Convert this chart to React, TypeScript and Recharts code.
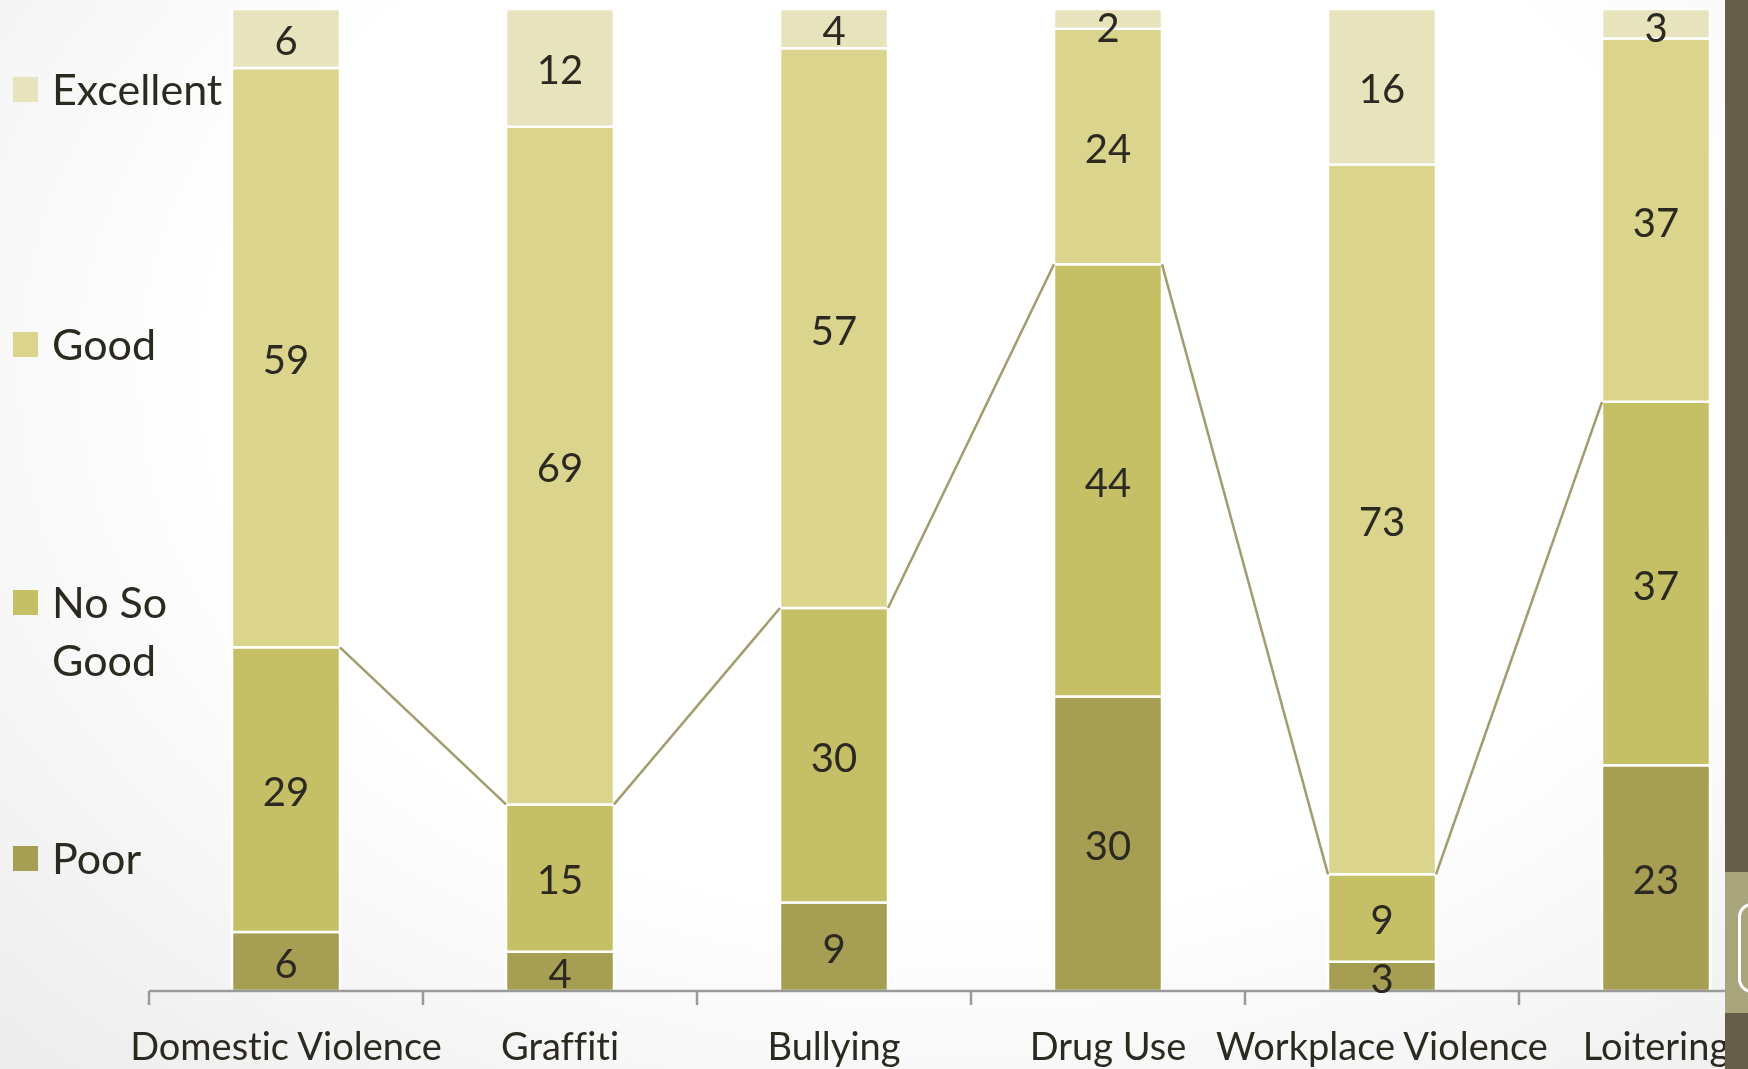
import { ComposedChart, Bar, XAxis, YAxis, Scatter, LabelList } from "recharts";

const categories = ["Domestic Violence", "Graffiti", "Bullying", "Drug Use", "Workplace Violence", "Loitering"];
const poor = [6, 4, 9, 30, 3, 23];
const notSoGood = [29, 15, 30, 44, 9, 37];
const good = [59, 69, 57, 24, 73, 37];
const excellent = [6, 12, 4, 2, 16, 3];

const seriesKeys = ["poor", "notSoGood", "good", "excellent"] as const;
const seriesNames = { poor: "Poor", notSoGood: "No So Good", good: "Good", excellent: "Excellent" };
const colors = { poor: "#a69f53", notSoGood: "#c5bf66", good: "#dad48d", excellent: "#e7e3bd" };

const FONT = "Lato, 'Open Sans', sans-serif";
const TEXT = "#2b2920";
const BAR_SIZE = 108;
const CHART_W = 1793;
const PLOT_LEFT = 149;

const data = categories.map((name, i) => ({
  name,
  poor: poor[i],
  notSoGood: notSoGood[i],
  good: good[i],
  excellent: excellent[i],
}));

// series lines join the top of "No So Good" from one bar's right edge to the next bar's left edge
const halfBar = BAR_SIZE / 2 / ((CHART_W - PLOT_LEFT) / categories.length);
const share = (i: number) =>
  (poor[i] + notSoGood[i]) / (poor[i] + notSoGood[i] + good[i] + excellent[i]);
const seriesLines = categories.slice(0, -1).map((_, i) => [
  { x: i + 0.5 + halfBar, y: share(i) },
  { x: i + 1.5 - halfBar, y: share(i + 1) },
]);

const legendTops = [60, 315, 573, 829];

function LegendBox() {
  const items = [...seriesKeys].reverse();
  return (
    <div style={{ position: "absolute", left: 0, top: 0, width: 220 }}>
      {items.map((k, i) => (
        <div
          key={k}
          style={{
            position: "absolute",
            top: legendTops[i],
            left: 13,
            display: "flex",
            alignItems: "flex-start",
            fontFamily: FONT,
            fontSize: 43,
            lineHeight: "58px",
            color: TEXT,
          }}
        >
          <div style={{ width: 25, height: 25, marginTop: 17, background: colors[k], flex: "none" }} />
          <div style={{ marginLeft: 14, width: 150 }}>{seriesNames[k]}</div>
        </div>
      ))}
    </div>
  );
}

// centred value label, kept inside the top of the plot for thin segments
function SegmentLabel(props: any) {
  const box = props.viewBox && props.viewBox.width != null ? props.viewBox : props;
  const { x, y, width, height } = box;
  const cy = Math.max(y + height / 2, 26) + 2;
  return (
    <text
      x={x + width / 2}
      y={cy}
      dy="0.36em"
      textAnchor="middle"
      style={{ fontFamily: FONT, fontSize: 40, fill: TEXT }}
    >
      {props.value}
    </text>
  );
}

export default function App() {
  return (
    <div
      style={{
        position: "fixed",
        left: 0,
        top: 0,
        width: 1748,
        height: 1069,
        overflow: "hidden",
        background: "radial-gradient(ellipse at 55% 35%, #ffffff 55%, #ececec 100%)",
      }}
    >
      <ComposedChart
        width={CHART_W}
        height={1069}
        data={data}
        stackOffset="expand"
        margin={{ top: 9, right: 0, left: PLOT_LEFT, bottom: 0 }}
      >
        <XAxis
          xAxisId="a0"
          type="number"
          dataKey="x"
          domain={[0, categories.length]}
          ticks={[0, 1, 2, 3, 4, 5, 6]}
          allowDataOverflow
          height={20}
          tickSize={14}
          tickFormatter={() => ""}
          axisLine={{ stroke: "#9a9a9a", strokeWidth: 2.5 }}
          tickLine={{ stroke: "#9a9a9a", strokeWidth: 2.5 }}
        />
        <XAxis
          xAxisId="a1"
          dataKey="name"
          height={58}
          interval={0}
          axisLine={false}
          tickLine={false}
          tickSize={0}
          tickMargin={22}
          tick={{ fontFamily: FONT, fontSize: 38, fill: TEXT, style: { fontVariantLigatures: "none" } }}
        />
        <YAxis yAxisId="bars" domain={[0, 1]} hide />
        <YAxis yAxisId="line" dataKey="y" type="number" domain={[0, 1]} hide />
        {seriesLines.map((seg, i) => (
          <Scatter
            key={i}
            data={seg}
            xAxisId="a0"
            yAxisId="line"
            legendType="none"
            line={{ stroke: "#a19d6d", strokeWidth: 2.5 }}
            shape={() => <g />}
            isAnimationActive={false}
          />
        ))}
        {seriesKeys.map((k) => (
          <Bar
            key={k}
            dataKey={k}
            name={seriesNames[k]}
            stackId="a"
            xAxisId="a1"
            yAxisId="bars"
            fill={colors[k]}
            stroke="#ffffff"
            strokeWidth={2.5}
            barSize={BAR_SIZE}
            isAnimationActive={false}
          >
            <LabelList dataKey={k} content={<SegmentLabel />} />
          </Bar>
        ))}
      </ComposedChart>
      <LegendBox />
      <div style={{ position: "absolute", left: 1725, top: 0, width: 23, height: 1069, background: "#665e48" }} />
      <div style={{ position: "absolute", left: 1725, top: 872, width: 23, height: 141, background: "#a8a57d" }} />
      <div
        style={{
          position: "absolute",
          left: 1738,
          top: 903,
          width: 30,
          height: 84,
          border: "3px solid #ffffff",
          borderRadius: 14,
        }}
      />
    </div>
  );
}
